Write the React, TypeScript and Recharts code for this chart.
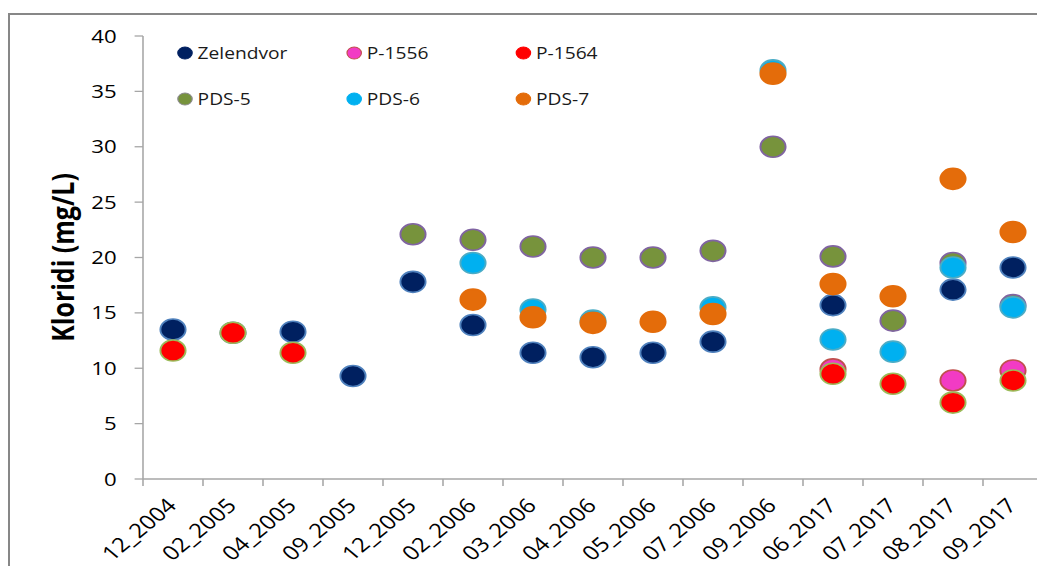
import React from 'react';
import { LineChart, Line, XAxis, YAxis, Legend } from 'recharts';

const DATES = ['12_2004', '02_2005', '04_2005', '09_2005', '12_2005', '02_2006', '03_2006', '04_2006', '05_2006', '07_2006', '09_2006', '06_2017', '07_2017', '08_2017', '09_2017'];

const ZELENDVOR = [13.5, 13.2, 13.3, 9.3, 17.8, 13.9, 11.4, 11.0, 11.4, 12.4, null, 15.7, null, 17.1, 19.1];
const P1556 = [null, null, null, null, null, null, null, null, null, null, null, 9.9, null, 8.9, 9.8];
const P1564 = [11.6, 13.2, 11.4, null, null, null, null, null, null, null, null, 9.5, 8.6, 6.9, 8.9];
const PDS5 = [null, null, null, null, 22.1, 21.6, 21.0, 20.0, 20.0, 20.6, 30.0, 20.1, 14.3, 19.5, 15.7];
const PDS6 = [null, null, null, null, null, 19.5, 15.3, 14.3, null, 15.5, 36.9, 12.6, 11.5, 19.1, 15.5];
const PDS7 = [null, null, null, null, null, 16.2, 14.6, 14.1, 14.2, 14.9, 36.6, 17.6, 16.5, 27.1, 22.3];

const Y_TICKS = [0, 5, 10, 15, 20, 25, 30, 35, 40];
const Y_LABEL = 'Kloridi (mg/L)';

const SERIES = [
  { key: 'zel', name: 'Zelendvor', values: ZELENDVOR, fill: '#002060', stroke: '#4F81BD', legendStroke: '#002060' },
  { key: 'p1556', name: 'P-1556', values: P1556, fill: '#F23BC4', stroke: '#C0504D', legendStroke: '#C0504D' },
  { key: 'p1564', name: 'P-1564', values: P1564, fill: '#FF0000', stroke: '#9BBB59', legendStroke: '#FF0000' },
  { key: 'pds5', name: 'PDS-5', values: PDS5, fill: '#77933C', stroke: '#8064A2', legendStroke: '#8A8A8A' },
  { key: 'pds6', name: 'PDS-6', values: PDS6, fill: '#00B0F0', stroke: '#4BACC6', legendStroke: '#00B0F0' },
  { key: 'pds7', name: 'PDS-7', values: PDS7, fill: '#E46C0A', stroke: '#E46C0A', legendStroke: '#E46C0A' },
];

const data = DATES.map((d, i) => {
  const row: any = { date: d };
  SERIES.forEach((s) => {
    row[s.key] = s.values[i];
  });
  return row;
});

const SCALE = 1.2;
const W = 871;
const H = 566;
const FONT = '"Open Sans", "DejaVu Sans", sans-serif';
const AXIS = '#A6A6A6';

function makeDot(s: any) {
  return (props: any) => {
    const { cx, cy, value, index } = props;
    const k = `${s.key}-${index}`;
    if (value == null || cx == null || cy == null || Number.isNaN(cx) || Number.isNaN(cy)) {
      return <g key={k} />;
    }
    return <circle key={k} cx={cx} cy={cy} r={10.5} fill={s.fill} stroke={s.stroke} strokeWidth={1.6} />;
  };
}

const XTick = (props: any) => {
  const { x, y, payload } = props;
  const off = payload && payload.offset ? payload.offset : 0;
  const left = x - off;
  const lx = x + 4;
  const ly = y + 28;
  return (
    <g>
      <line x1={left} x2={left} y1={y} y2={y + 7} stroke={AXIS} strokeWidth={1.3} />
      <text
        x={lx}
        y={ly}
        transform={`rotate(-45 ${lx} ${ly})`}
        textAnchor="end"
        fontSize={20}
        fontFamily={FONT}
        fill="#000"
      >
        {payload.value}
      </text>
    </g>
  );
};

const renderYLabel = () => (
  <text
    x={45}
    y={249.5}
    transform="rotate(-90 45 249.5)"
    textAnchor="middle"
    dominantBaseline="central"
    fontSize={25}
    fontWeight="bold"
    fontFamily={FONT}
    fill="#000"
  >
    {Y_LABEL}
  </text>
);

const renderLegend = () => (
  <svg width={W} height={120} style={{ display: 'block' }}>
    {SERIES.map((s, i) => {
      const col = i % 3;
      const row = Math.floor(i / 3);
      const cx = 147.5 + col * 141;
      const cy = 45 + row * 46;
      return (
        <g key={s.key}>
          <circle cx={cx} cy={cy} r={6} fill={s.fill} stroke={s.legendStroke} strokeWidth={1} />
          <text x={cx + 10.5} y={cy + 5.7} fontSize={16} fontFamily={FONT} fill="#1a1a1a">
            {s.name}
          </text>
        </g>
      );
    })}
  </svg>
);

export default function App() {
  return (
    <div
      style={{
        position: 'relative',
        width: 1037,
        height: 566,
        marginRight: -8,
        marginBottom: -8,
        overflow: 'hidden',
        background: '#fff',
      }}
    >
      <div
        style={{
          position: 'absolute',
          left: 0,
          top: 5,
          width: 1200,
          height: 800,
          borderLeft: '2px solid #878787',
          borderTop: '2px solid #878787',
          boxSizing: 'border-box',
        }}
      />
      <div style={{ position: 'absolute', left: 0, top: 0, transform: `scaleX(${SCALE})`, transformOrigin: '0 0' }}>
        <LineChart width={W} height={H} data={data} margin={{ top: 28, right: 8.5, bottom: 0, left: 0 }}>
          <XAxis
            dataKey="date"
            type="category"
            scale="band"
            height={95}
            interval={0}
            tickSize={0}
            tickMargin={0}
            tickLine={false}
            axisLine={{ stroke: AXIS, strokeWidth: 1.4 }}
            tick={<XTick />}
          />
          <YAxis
            type="number"
            domain={[0, 40]}
            ticks={Y_TICKS}
            interval={0}
            width={112.5}
            tickSize={7}
            tickMargin={15}
            axisLine={{ stroke: AXIS, strokeWidth: 1.3 }}
            tickLine={{ stroke: AXIS, strokeWidth: 1.3 }}
            tick={{ fontSize: 18.5, fill: '#000', fontFamily: FONT }}
            label={renderYLabel}
          />
          <Legend
            layout="horizontal"
            verticalAlign="middle"
            align="center"
            wrapperStyle={{ position: 'absolute', left: 0, top: 0, width: W, height: 120 }}
            content={renderLegend}
          />
          {SERIES.map((s) => (
            <Line
              key={s.key}
              dataKey={s.key}
              name={s.name}
              stroke="none"
              fill={s.fill}
              dot={makeDot(s)}
              activeDot={false}
              isAnimationActive={false}
            />
          ))}
        </LineChart>
      </div>
    </div>
  );
}
